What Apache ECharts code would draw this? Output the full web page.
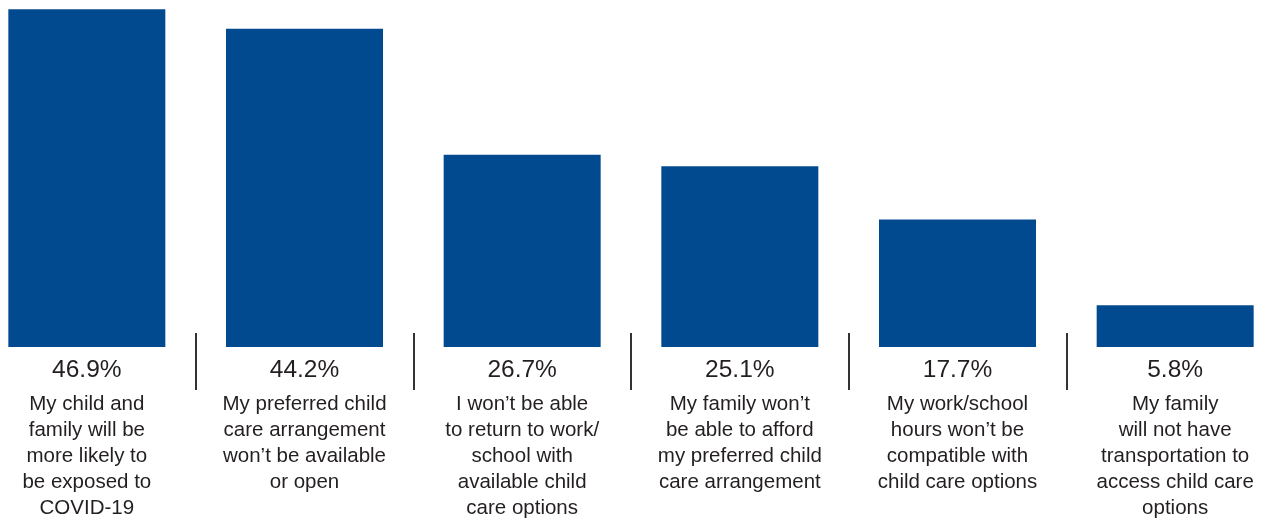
<!DOCTYPE html>
<html>
<head>
<meta charset="utf-8">
<style>
  html, body { margin: 0; padding: 0; background: #ffffff; }
  #chart { width: 1261px; height: 519px; }
</style>
<script src="https://cdn.jsdelivr.net/npm/echarts@6/dist/echarts.min.js"></script>
</head>
<body>
<div id="chart"></div>
<script>
// Reasons parents give for concern about child care
const categories = [
  'My child and\nfamily will be\nmore likely to\nbe exposed to\nCOVID-19',
  'My preferred child\ncare arrangement\nwon\u2019t be available\nor open',
  'I won\u2019t be able\nto return to work/\nschool with\navailable child\ncare options',
  'My family won\u2019t\nbe able to afford\nmy preferred child\ncare arrangement',
  'My work/school\nhours won\u2019t be\ncompatible with\nchild care options',
  'My family\nwill not have\ntransportation to\naccess child care\noptions'
];
const percentages = [46.9, 44.2, 26.7, 25.1, 17.7, 5.8];

const FONT = '"Liberation Sans Narrow", "Arial Narrow", "Liberation Sans", Arial, sans-serif';
const TEXT = '#231f20';
const BAR = '#024a8f';

const chart = echarts.init(document.getElementById('chart'), null, { renderer: 'canvas' });
chart.setOption({
  animation: false,
  grid: {
    left: -22, right: -23, top: 0, bottom: 172,
    containLabel: false,
    outerBoundsMode: 'none'
  },
  xAxis: [
    {
      type: 'category',
      data: categories,
      axisLine: { show: false },
      axisTick: { show: false },
      axisLabel: {
        interval: 0,
        margin: 44,
        fontFamily: FONT,
        fontSize: 20.5,
        lineHeight: 26,
        color: TEXT,
        align: 'center'
      }
    },
    {
      // divider lines between the groups
      type: 'category',
      data: categories,
      position: 'bottom',
      offset: -14,
      axisLine: { show: false },
      axisLabel: { show: false },
      axisTick: { show: true, length: 57, lineStyle: { color: '#333333', width: 2 } }
    }
  ],
  yAxis: {
    type: 'value',
    min: 0,
    max: 48.2,
    show: false,
    splitLine: { show: false }
  },
  series: [{
    type: 'bar',
    xAxisIndex: 0,
    data: percentages,
    barWidth: 157,
    itemStyle: { color: BAR },
    label: {
      show: true,
      position: 'bottom',
      distance: 10,
      formatter: p => p.value.toFixed(1) + '%',
      fontFamily: FONT,
      fontSize: 24.5,
      lineHeight: 26,
      color: TEXT
    }
  }]
});
</script>
</body>
</html>
